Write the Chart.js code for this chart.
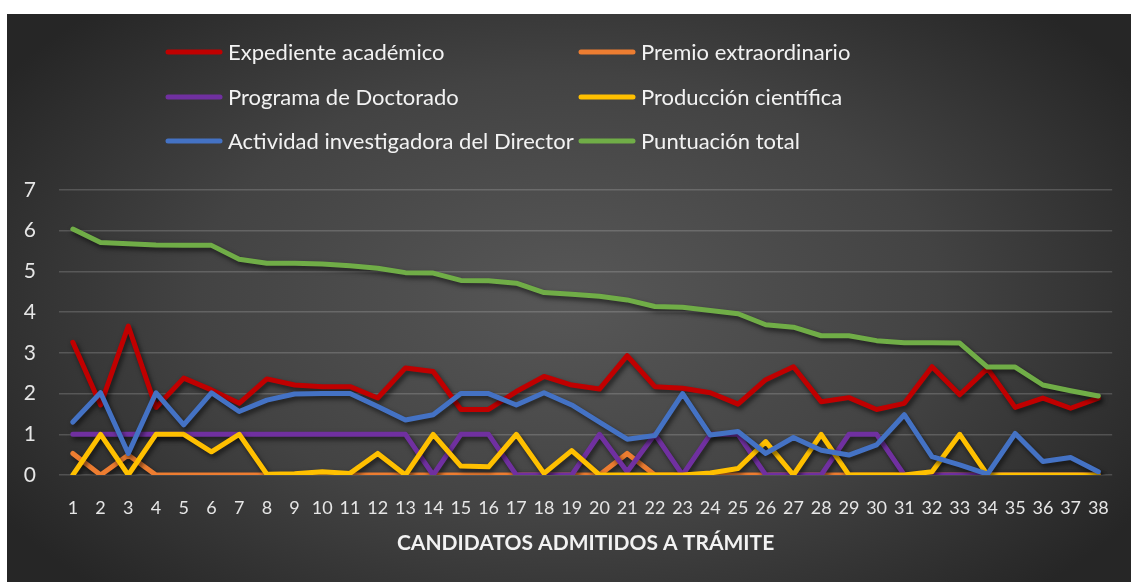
<!DOCTYPE html>
<html>
<head>
<meta charset="utf-8">
<script src="https://cdn.jsdelivr.net/npm/chart.js@4/dist/chart.umd.min.js"></script>
<style>
  html, body { margin: 0; padding: 0; background: #fff; }
  #wrap { position: absolute; left: 7px; top: 14px; width: 1124px; height: 568px; }
</style>
</head>
<body>
<div id="wrap"><canvas id="chart"></canvas></div>
<script>
const candidatos = Array.from({ length: 38 }, (_, i) => String(i + 1));

const seriesNames = ['Expediente académico', 'Premio extraordinario', 'Programa de Doctorado',
    'Producción científica', 'Actividad investigadora del Director', 'Puntuación total'];
const seriesColors = ['#C00000', '#ED7D31', '#7030A0', '#FFC000', '#4472C4', '#70AD47'];

const expediente = [3.26, 1.72, 3.66, 1.66, 2.38, 2.09, 1.76, 2.36, 2.21, 2.17, 2.17, 1.89, 2.63,
    2.54, 1.61, 1.61, 2.05, 2.42, 2.21, 2.11, 2.93, 2.17, 2.13, 2.02, 1.74, 2.34,
    2.66, 1.8, 1.9, 1.61, 1.76, 2.66, 1.97, 2.62, 1.66, 1.89, 1.64, 1.89];
const premio = [0.53, 0, 0.49, 0, 0, 0, 0, 0, 0, 0, 0, 0, 0,
    0, 0, 0, 0, 0, 0, 0, 0.53, 0, 0, 0, 0, 0,
    0, 0, 0, 0, 0, 0, 0, 0, 0, 0, 0, 0];
const programa = [1, 1, 1, 1, 1, 1, 1, 1, 1, 1, 1, 1, 1,
    0, 1, 1, 0, 0, 0, 1, 0.08, 1, 0, 1, 1, 0,
    0, 0, 1, 1, 0, 0, 0, 0, 0, 0, 0, 0];
const produccion = [0, 1, 0, 1, 1, 0.57, 1, 0.02, 0.03, 0.08, 0.04, 0.53, 0,
    1, 0.22, 0.2, 1, 0.04, 0.6, 0, 0, 0, 0, 0.05, 0.16, 0.82,
    0, 1, 0, 0, 0, 0.08, 1, 0, 0, 0, 0, 0];
const actividad = [1.3, 2.02, 0.53, 2.02, 1.23, 2.02, 1.56, 1.84, 1.99, 2, 2, 1.68, 1.35,
    1.48, 2, 2, 1.72, 2.02, 1.72, 1.3, 0.88, 0.97, 2, 0.98, 1.07, 0.53,
    0.92, 0.61, 0.49, 0.74, 1.48, 0.45, 0.25, 0.02, 1.02, 0.33, 0.43, 0.08];
const total = [6.04, 5.71, 5.68, 5.65, 5.64, 5.64, 5.3, 5.2, 5.2, 5.18, 5.14, 5.08, 4.97,
    4.96, 4.78, 4.77, 4.71, 4.48, 4.44, 4.39, 4.3, 4.14, 4.12, 4.04, 3.96, 3.69,
    3.63, 3.42, 3.42, 3.3, 3.25, 3.25, 3.24, 2.65, 2.65, 2.21, 2.07, 1.94];

const yTicks = [0, 1, 2, 3, 4, 5, 6, 7];
const xTitle = 'CANDIDATOS ADMITIDOS A TRÁMITE';

const allSeries = [expediente, premio, programa, produccion, actividad, total];
const FONT = 'Lato, "Open Sans", sans-serif';

const background = {
    id: 'background',
    beforeDraw(chart) {
        const c = chart.ctx;
        const w = chart.width, h = chart.height;
        c.save();
        c.fillStyle = '#262626';
        c.fillRect(0, 0, w, h);
        c.translate(w * 0.5, h * 0.5);
        c.scale(1, 0.6);
        const g = c.createRadialGradient(0, 0, 0, 0, 0, w * 0.6);
        g.addColorStop(0, '#575757');
        g.addColorStop(0.55, '#434343');
        g.addColorStop(1, '#262626');
        c.fillStyle = g;
        c.fillRect(-w, -h * 2, w * 2, h * 4);
        c.restore();
    }
};

const shadow = {
    id: 'shadow',
    beforeDatasetsDraw(chart) {
        const c = chart.ctx;
        c.save();
        c.shadowColor = 'rgba(0,0,0,0.6)';
        c.shadowBlur = 5;
        c.shadowOffsetX = 2;
        c.shadowOffsetY = 3;
    },
    afterDatasetsDraw(chart) {
        chart.ctx.restore();
    }
};

// two-column legend like the original
const legendGrid = {
    id: 'legendGrid',
    afterDraw(chart) {
        const c = chart.ctx;
        const cols = [158, 571];
        const rows = [38, 83, 127];
        c.save();
        c.font = '22px ' + FONT;
        c.textBaseline = 'middle';
        c.fillStyle = '#f2f2f2';
        c.lineCap = 'round';
        c.lineWidth = 5;
        seriesNames.forEach((name, i) => {
            const x = cols[i % 2];
            const y = rows[Math.floor(i / 2)];
            c.strokeStyle = seriesColors[i];
            c.beginPath();
            c.moveTo(x + 3, y);
            c.lineTo(x + 55, y);
            c.stroke();
            c.fillText(name, x + 63, y + 1);
        });
        c.restore();
    }
};

new Chart(document.getElementById('chart'), {
    type: 'line',
    data: {
        labels: candidatos,
        datasets: allSeries.map((data, i) => ({
            label: seriesNames[i],
            data: data,
            borderColor: seriesColors[i],
            backgroundColor: seriesColors[i],
            borderWidth: 5,
            pointRadius: 0,
            tension: 0,
            fill: false,
            borderCapStyle: 'round',
            borderJoinStyle: 'round',
            order: allSeries.length - i
        }))
    },
    options: {
        responsive: true,
        maintainAspectRatio: false,
        animation: false,
        layout: { padding: { top: 176, right: 18, bottom: 26, left: 0 } },
        plugins: {
            legend: { display: false },
            tooltip: { enabled: false }
        },
        scales: {
            x: {
                offset: true,
                afterFit(scale) { scale.height = 81; },
                grid: { display: false, drawTicks: false },
                border: { display: false },
                ticks: {
                    color: '#e6e6e6',
                    font: { family: FONT, size: 18 },
                    padding: 22,
                    maxRotation: 0,
                    autoSkip: false
                },
                title: {
                    display: true,
                    text: xTitle,
                    color: '#f2f2f2',
                    font: { family: FONT, size: 21, weight: 'bold' },
                    padding: { top: 0, bottom: 0 }
                }
            },
            y: {
                min: 0,
                max: 7,
                afterFit(scale) { scale.width = 52; },
                afterBuildTicks(scale) { scale.ticks = yTicks.map(v => ({ value: v })); },
                grid: { color: 'rgba(255,255,255,0.17)', lineWidth: 1.5, drawTicks: false },
                border: { display: false },
                ticks: {
                    color: '#e6e6e6',
                    font: { family: FONT, size: 21 },
                    padding: 23
                }
            }
        }
    },
    plugins: [background, shadow, legendGrid]
});
</script>
</body>
</html>
